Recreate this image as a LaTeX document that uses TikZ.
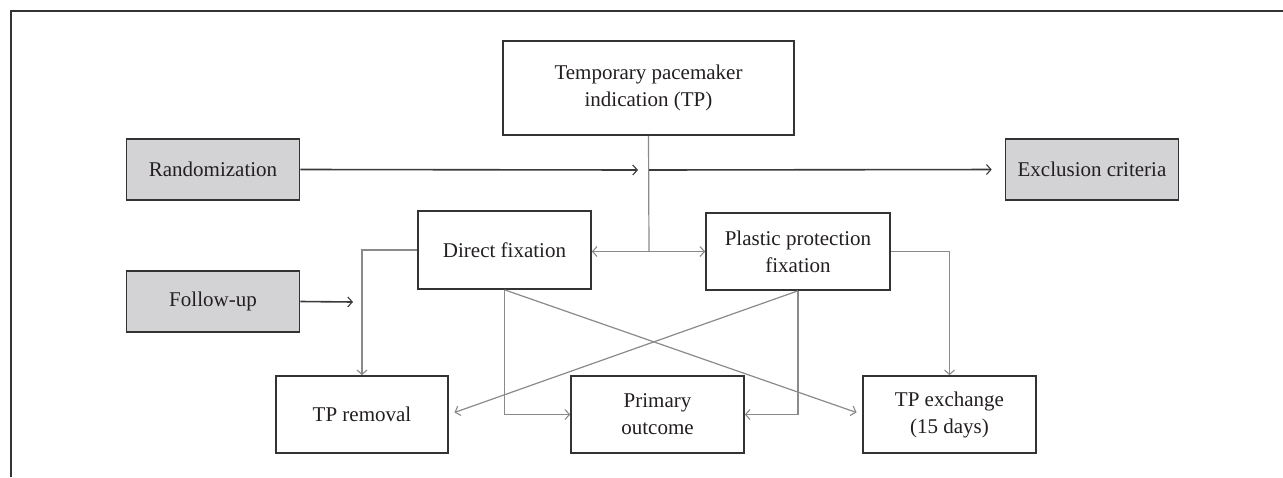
\documentclass[tikz,border=0pt]{standalone}
\usepackage{fontspec}
\setmainfont{Liberation Serif}
\usetikzlibrary{arrows.meta}
\definecolor{boxline}{HTML}{333333}
\definecolor{grayfill}{HTML}{D3D3D5}
\definecolor{conn}{HTML}{8A8A8A}
\definecolor{dark}{HTML}{3A3A3A}
\definecolor{txt}{HTML}{231F20}
\tikzset{
  box/.style={draw=boxline, line width=1.6pt, fill=white, minimum width=#1, align=center,
    font=\fontsize{21}{27}\selectfont, text=txt, inner sep=0pt},
  box/.default=173pt,
  gbox/.style={box, fill=grayfill},
  tip/.style={-{Straight Barb[length=4.5pt,width=10pt,line width=1.1pt]}},
  gline/.style={draw=conn, line width=1.2pt},
  dline/.style={draw=dark, line width=1.6pt},
}
\begin{document}
\begin{tikzpicture}[x=1pt,y=-1pt]
\useasboundingbox (0,0) rectangle (1283,477);
% frame
\draw[draw=boxline, line width=1.8pt] (11,477) -- (11,11) -- (1283,11);
% nodes
\node[box=291pt, minimum height=94pt] (tp) at (648.5,88) {Temporary pacemaker\\indication (TP)};
\node[gbox=192pt, minimum height=61pt] (rand) at (213,169.5) {Randomization};
\node[gbox=182pt, minimum height=61pt] (excl) at (1092,169.5) {Exclusion criteria};
\node[gbox=192pt, minimum height=61pt] (fu) at (213,301.5) {Follow-up};
\node[box=173pt, minimum height=78pt] (df) at (504.5,250) {Direct fixation};
\node[box=184pt, minimum height=77pt] (pp) at (798,251.5) {Plastic protection\\fixation};
\node[box=172pt, minimum height=77pt] (rem) at (362,414.5) {TP removal};
\node[box=173pt, minimum height=77pt] (po) at (657.5,414.5) {Primary\\outcome};
\node[box=173pt, minimum height=77pt] (ex) at (949.5,414.5) {TP exchange\\(15 days)};
% coordinates
\coordinate (j) at (649,251.5);
\coordinate (jr) at (638,170);
\coordinate (jx) at (649,170);
\coordinate (jf) at (353,302);
% gray connectors
\draw[gline] (tp.south) -- (j);
\draw[gline, tip] (j) -- (df.east |- j);
\draw[gline, tip] (j) -- (pp.west |- j);
\draw[gline, tip] (df.west) -| (rem.north);
\draw[gline, tip] (pp.east) -| (ex.north);
\draw[gline, tip] (df.south) |- (po.west);
\draw[gline, tip] (pp.south) |- (po.east);
\draw[gline, tip, shorten >=6pt] (df.south) -- (ex.west);
\draw[gline, tip, shorten >=6pt] (pp.south) -- (rem.east);
% dark connectors
\draw[dline, tip] (rand.east) -- (jr);
\draw[dline, tip, shorten >=13pt] (jx) -- (excl.west);
\draw[dline, tip] (fu.east) -- (jf);
\end{tikzpicture}
\end{document}
